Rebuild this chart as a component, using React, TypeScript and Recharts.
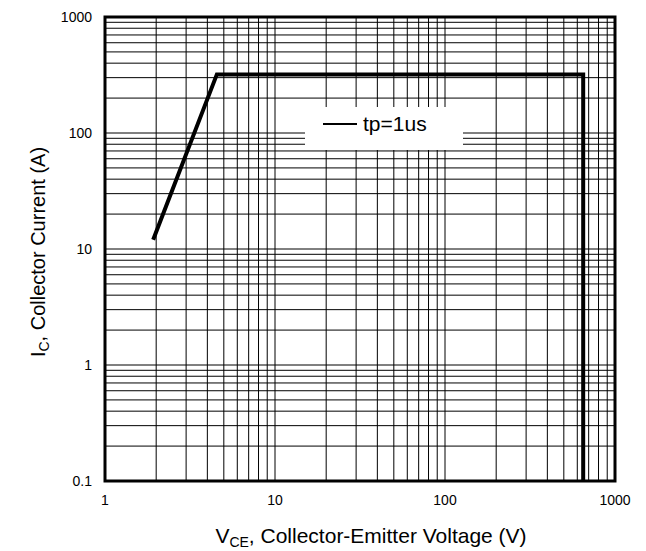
import React from 'react'
import { LineChart, Line, XAxis, YAxis, CartesianGrid, ReferenceArea, Label } from 'recharts'

// safe operating area, tp = 1us
const vce = [1.92, 4.55, 650, 650]
const ic = [12, 320, 320, 0.1]

const xTicks = [
  1, 2, 3, 4, 5, 6, 7, 8, 9,
  10, 20, 30, 40, 50, 60, 70, 80, 90,
  100, 200, 300, 400, 500, 600, 700, 800, 900,
  1000,
]
const yTicks = [
  0.1, 0.2, 0.3, 0.4, 0.5, 0.6, 0.7, 0.8, 0.9,
  1, 2, 3, 4, 5, 6, 7, 8, 9,
  10, 20, 30, 40, 50, 60, 70, 80, 90,
  100, 200, 300, 400, 500, 600, 700, 800, 900,
  1000,
]
const xLabels = [1, 10, 100, 1000]
const yLabels = [0.1, 1, 10, 100, 1000]
const legendName = 'tp=1us'

const data = vce.map((v, i) => ({ v, i: ic[i] }))

const FONT = '"Liberation Sans", Arial, sans-serif'

const XTitle = ({ viewBox }) => {
  const cx = viewBox.x + viewBox.width / 2 + 11
  return (
    <text x={cx} y={535} textAnchor="middle" fontFamily={FONT} fontSize={21} fill="#000">
      V<tspan fontSize={14} dy={4}>CE</tspan>
      <tspan dy={-4}>, Collector-Emitter Voltage (V)</tspan>
    </text>
  )
}

const YTitle = ({ viewBox }) => {
  const cy = viewBox.y + viewBox.height / 2 + 3
  return (
    <text
      x={37}
      y={cy}
      transform={`rotate(-90, 37, ${cy})`}
      textAnchor="middle"
      fontFamily={FONT}
      fontSize={20}
      fill="#000"
    >
      I<tspan fontSize={14} dy={4}>C</tspan>
      <tspan dy={-4}>, Collector Current (A)</tspan>
    </text>
  )
}

export default function App() {
  return (
    <div style={{ position: 'relative', width: 638, height: 543 }}>
      <LineChart width={638} height={543} data={data} margin={{ top: 9, right: 31, left: 0, bottom: 0 }}>
        <CartesianGrid stroke="#000" strokeWidth={1} fill="none" />
        <XAxis
          dataKey="v"
          type="number"
          scale="log"
          domain={[1, 1000]}
          ticks={xTicks}
          interval={0}
          allowDataOverflow
          height={70}
          tickSize={0}
          tickMargin={14}
          axisLine={false}
          tickLine={false}
          tick={{ fontSize: 14, fontFamily: FONT, fill: '#000' }}
          tickFormatter={(t) => (xLabels.includes(t) ? String(t) : '')}
        >
          <Label content={XTitle} />
        </XAxis>
        <YAxis
          dataKey="i"
          type="number"
          scale="log"
          domain={[0.1, 1000]}
          ticks={yTicks}
          interval={0}
          allowDataOverflow
          width={97}
          tickSize={0}
          tickMargin={13}
          axisLine={false}
          tickLine={false}
          tick={{ fontSize: 14, fontFamily: FONT, fill: '#000' }}
          tickFormatter={(t) => (yLabels.includes(t) ? String(t) : '')}
        >
          <Label content={YTitle} />
        </YAxis>
        <ReferenceArea
          x1={1}
          x2={1000}
          y1={0.1}
          y2={1000}
          fill="none"
          stroke="#000"
          strokeWidth={3}
          ifOverflow="visible"
        />
        <Line
          dataKey="i"
          type="linear"
          stroke="#000"
          strokeWidth={4}
          dot={false}
          isAnimationActive={false}
        />
      </LineChart>
      <div
        style={{
          position: 'absolute',
          left: 297,
          top: 99,
          width: 158,
          height: 43,
          background: '#fff',
        }}
      >
        <svg width={158} height={43}>
          <line x1={18} y1={17} x2={52} y2={17} stroke="#000" strokeWidth={2} />
          <text x={58} y={24} fontFamily={FONT} fontSize={21} fill="#000">
            {legendName}
          </text>
        </svg>
      </div>
    </div>
  )
}
